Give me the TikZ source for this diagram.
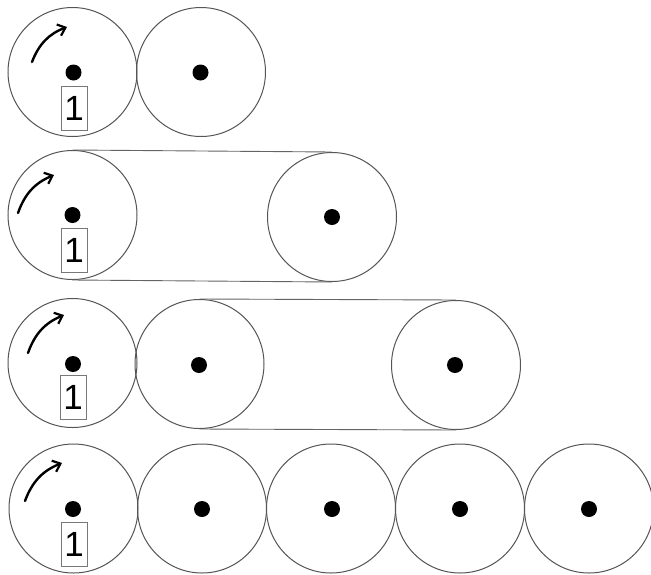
\documentclass[tikz,border=0pt]{standalone}
\usepackage{fontspec}
\setmainfont{Liberation Sans}
\usetikzlibrary{arrows.meta}
\definecolor{rim}{RGB}{85,85,85}
\definecolor{beltc}{RGB}{100,100,100}
\definecolor{boxc}{RGB}{120,120,120}
\tikzset{
  wheel/.style={circle,draw=rim,line width=1pt,minimum size=129pt,inner sep=0pt},
  hub/.style={circle,fill=black,minimum size=16pt,inner sep=0pt},
  numbox/.style={draw=boxc,line width=0.8pt,minimum width=26pt,minimum height=44pt,inner sep=0pt,font=\fontsize{35}{35}\selectfont},
  beltline/.style={draw=beltc,line width=0.9pt},
  turn/.style={-{Straight Barb[length=7pt,width=12pt,line width=2.2pt]},line width=2.4pt,line cap=round}
}
\begin{document}
\begin{tikzpicture}[x=1pt,y=-1pt]
\useasboundingbox (0,0) rectangle (651,574);
% Row 1
\node[wheel] (A1) at (72.5,72) {};
\node[wheel] (A2) at (201,72) {};
\node[hub] (ha1) at (73.5,72.5) {};
\node[hub] (ha2) at (200.5,72.5) {};
\node[numbox] (na) at (74,108.5) {1};
\coordinate (as) at (32,62);
\coordinate (ae) at (67,27);
\draw[turn] (as) to[bend left=24] (ae);
% Row 2
\node[wheel] (B1) at (72.5,215) {};
\node[wheel] (B2) at (332,217) {};
\node[hub] (hb1) at (72.5,215) {};
\node[hub] (hb2) at (332,217) {};
\node[numbox] (nb) at (74,250.5) {1};
\draw[beltline] (B1.north) -- (B2.north);
\draw[beltline] (B1.south) -- (B2.south);
\coordinate (bs) at (18,213);
\coordinate (be) at (54,175);
\draw[turn] (bs) to[bend left=24] (be);
% Row 3
\node[wheel] (C1) at (72.5,363) {};
\node[wheel] (C2) at (199.5,364) {};
\node[wheel] (C3) at (456,365) {};
\node[hub] (hc1) at (73,364) {};
\node[hub] (hc2) at (199,365) {};
\node[hub] (hc3) at (455,365) {};
\node[numbox] (nc) at (73,397.5) {1};
\draw[beltline] (C2.north) -- (C3.north);
\draw[beltline] (C2.south) -- (C3.south);
\coordinate (cs) at (28,353);
\coordinate (ce) at (64,315);
\draw[turn] (cs) to[bend left=24] (ce);
% Row 4
\node[wheel] (D1) at (73.5,508.5) {};
\node[wheel] (D2) at (202,508.5) {};
\node[wheel] (D3) at (331,508.5) {};
\node[wheel] (D4) at (460,508.5) {};
\node[wheel] (D5) at (589,508.5) {};
\node[hub] (hd1) at (73,509) {};
\node[hub] (hd2) at (202,509) {};
\node[hub] (hd3) at (332,509) {};
\node[hub] (hd4) at (460,509) {};
\node[hub] (hd5) at (589,509) {};
\node[numbox] (nd) at (74,544.5) {1};
\coordinate (ds) at (25,501);
\coordinate (de) at (62,463);
\draw[turn] (ds) to[bend left=24] (de);
\end{tikzpicture}
\end{document}
